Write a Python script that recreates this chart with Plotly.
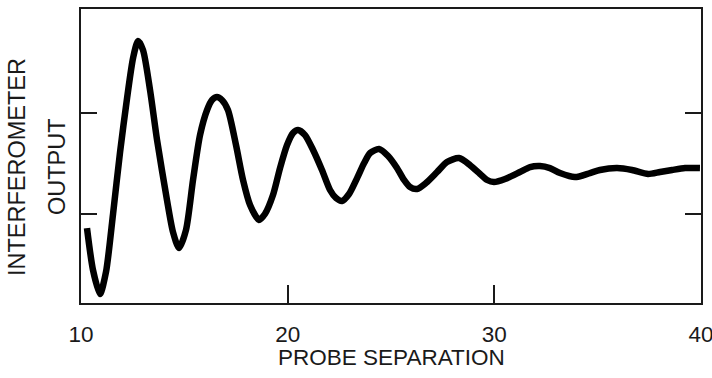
import plotly.graph_objects as go

# Probe separation (x) and interferometer output (arbitrary units, y)
probe_separation = [
    10.29, 10.58, 10.92, 11.21, 11.55, 11.89, 12.23, 12.52, 12.76, 13.00,
    13.34, 13.68, 14.16, 14.45, 14.74, 15.08, 15.42, 15.76, 16.10, 16.34,
    16.58, 16.82, 17.11, 17.50, 17.84, 18.18, 18.61, 18.90, 19.29, 19.63,
    19.97, 20.26, 20.50, 20.84, 21.23, 21.66, 22.05, 22.34, 22.63, 22.97,
    23.36, 23.70, 23.99, 24.42, 24.86, 25.29, 25.63, 25.92, 26.26, 26.69,
    27.23, 27.71, 28.29, 28.82, 29.31, 29.65, 29.98, 30.52, 31.24, 31.73,
    32.21, 32.69, 33.18, 33.90, 34.63, 35.11, 35.94, 36.66, 37.44, 38.02,
    38.60, 39.23, 39.95,
]
interferometer_output = [
    0.861, 0.446, 0.208, 0.426, 1.000, 1.614, 2.149, 2.545, 2.713, 2.624,
    2.228, 1.733, 1.139, 0.822, 0.663, 0.842, 1.337, 1.782, 2.030, 2.129,
    2.158, 2.129, 2.030, 1.683, 1.337, 1.089, 0.941, 1.000, 1.188, 1.455,
    1.683, 1.802, 1.832, 1.782, 1.634, 1.436, 1.238, 1.158, 1.129, 1.198,
    1.356, 1.505, 1.604, 1.644, 1.574, 1.455, 1.337, 1.267, 1.248, 1.307,
    1.416, 1.515, 1.554, 1.485, 1.396, 1.337, 1.317, 1.347, 1.416, 1.465,
    1.475, 1.455, 1.406, 1.366, 1.406, 1.436, 1.455, 1.436, 1.396, 1.416,
    1.436, 1.455, 1.455,
]

x_tick_values = [10, 20, 30, 40]
x_tick_labels = ["10", "20", "30", "40"]
y_tick_values = [1, 2]

x_title = "PROBE SEPARATION"
y_title_lines = ["INTERFEROMETER", "OUTPUT"]

FONT = "Liberation Sans, Arial, Helvetica, sans-serif"
INK = "#1a1a1a"

fig = go.Figure(
    go.Scatter(
        x=probe_separation,
        y=interferometer_output,
        mode="lines",
        line=dict(color="black", width=6.5, shape="spline", smoothing=0.7),
        hoverinfo="skip",
    )
)

fig.update_layout(
    width=712,
    height=378,
    margin=dict(l=81, r=11, t=9, b=75),
    paper_bgcolor="white",
    plot_bgcolor="white",
    showlegend=False,
    font=dict(family=FONT, size=22, color=INK),
)

fig.update_xaxes(
    range=[10, 40],
    tickvals=x_tick_values,
    ticktext=x_tick_labels,
    ticks="inside",
    ticklen=18,
    tickwidth=2,
    tickcolor=INK,
    showline=True,
    linecolor=INK,
    linewidth=2,
    mirror=True,
    showgrid=False,
    zeroline=False,
    ticklabelstandoff=10,
    ticklabeloverflow="allow",
    automargin=False,
    tickfont=dict(family=FONT, size=22.5, color=INK),
)
fig.update_yaxes(
    range=[0.119, 3.03],
    tickvals=y_tick_values,
    showticklabels=False,
    ticks="inside",
    ticklen=16,
    tickwidth=2,
    tickcolor=INK,
    showline=True,
    linecolor=INK,
    linewidth=2,
    mirror="ticks",
    showgrid=False,
    zeroline=False,
    automargin=False,
)

annotations = [
    dict(text=x_title, xref="paper", yref="paper", x=0.5, y=-0.187,
         xanchor="center", yanchor="middle", showarrow=False,
         font=dict(family=FONT, size=22.5, color=INK)),
    dict(text=y_title_lines[0], xref="paper", yref="paper", x=-0.1032, y=0.4626,
         xanchor="center", yanchor="middle", textangle=-90, showarrow=False,
         font=dict(family=FONT, size=23.5, color=INK)),
    dict(text=y_title_lines[1], xref="paper", yref="paper", x=-0.0387, y=0.4626,
         xanchor="center", yanchor="middle", textangle=-90, showarrow=False,
         font=dict(family=FONT, size=23.5, color=INK)),
]
fig.update_layout(annotations=annotations)

fig.write_html(
    "out.html",
    config={"displayModeBar": False, "staticPlot": True},
    post_script="document.body.style.margin='0';document.body.style.overflow='hidden';",
)
